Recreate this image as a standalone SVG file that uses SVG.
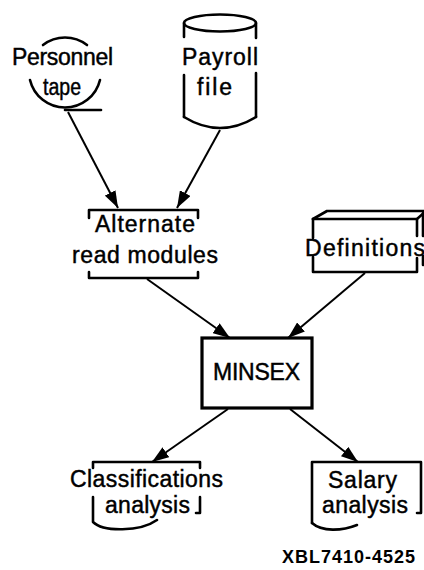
<svg xmlns="http://www.w3.org/2000/svg" width="424" height="570" viewBox="0 0 424 570">
  <style>
    .shape { fill: none; stroke: #000; stroke-width: 2.6; stroke-linecap: round; stroke-linejoin: round; }
    .box { fill: none; stroke: #000; stroke-width: 3.2; }
    .label { font-family: "Liberation Sans", Arial, sans-serif; font-size: 23px; fill: #000; stroke: #000; stroke-width: 0.45; }
    .tag { font-family: "Liberation Sans", Arial, sans-serif; font-size: 18px; font-weight: bold; fill: #000; }
    .edge { stroke: #000; stroke-width: 2; fill: none; marker-end: url(#head); }
  </style>
  <defs>
    <marker id="head" viewBox="0 0 17 12" refX="17" refY="6" markerWidth="17" markerHeight="12" markerUnits="userSpaceOnUse" orient="auto">
      <path d="M0,0 L17,6 L0,12 Z" fill="#000"/>
    </marker>
  </defs>

  <rect width="424" height="570" fill="#fff"/>

  <!-- magnetic tape reel -->
  <g id="personnel-tape">
    <path class="shape" d="M43,45 A36,36 0 0 1 87,45"/>
    <path class="shape" d="M30,80 A36,36 0 0 0 100,80"/>
    <path class="shape" d="M65,110 L101,110"/>
    <text class="label" x="12" y="65" textLength="101" lengthAdjust="spacing">Personnel</text>
    <text class="label" x="43" y="95" font-size="21" textLength="38" lengthAdjust="spacingAndGlyphs">tape</text>
  </g>

  <!-- disk file cylinder -->
  <g id="payroll-file">
    <ellipse class="shape" cx="220" cy="23" rx="36" ry="8.5"/>
    <path class="shape" d="M184,23 L184,37 M184,75 L184,117 M256,23 L256,38 M256,73 L256,117"/>
    <path class="shape" d="M184,117 Q220,139 256,117"/>
    <text class="label" x="182" y="65" textLength="76" lengthAdjust="spacing">Payroll</text>
    <text class="label" x="197" y="95" textLength="35" lengthAdjust="spacing">file</text>
  </g>

  <g id="alternate-read-modules">
    <path class="shape" d="M89,218 L89,210 L198,210 L198,218"/>
    <path class="shape" d="M89,272 L89,278 L198,278 L198,272"/>
    <text class="label" x="95" y="232" textLength="100" lengthAdjust="spacing">Alternate</text>
    <text class="label" x="72" y="263" textLength="146" lengthAdjust="spacing">read modules</text>
  </g>

  <!-- card deck block -->
  <g id="definitions">
    <path class="shape" d="M313,219 L327,211 L426,211"/>
    <path class="shape" d="M313,219 L417,219 L426,211"/>
    <path class="shape" d="M313,219 L313,238 M313,257 L313,272 L417,272 L417,258 M417,219 L417,236"/>
    <path class="shape" d="M423,213 L423,236 M423,256 L423,265"/>
    <text class="label" x="305" y="256" textLength="120" lengthAdjust="spacing">Definitions</text>
  </g>

  <g id="minsex">
    <rect class="box" x="202" y="338" width="110" height="70"/>
    <text class="label" x="213" y="380" textLength="87" lengthAdjust="spacing">MINSEX</text>
  </g>

  <g id="classifications-analysis">
    <path class="shape" d="M93,468 L93,462 L200,462 L200,468"/>
    <path class="shape" d="M93,497 L93,522 C103,532 140,532 157,520"/>
    <path class="shape" d="M200,497 L200,513 L196,513"/>
    <text class="label" x="70" y="487" textLength="153" lengthAdjust="spacing">Classifications</text>
    <text class="label" x="105" y="513" textLength="85" lengthAdjust="spacing">analysis</text>
  </g>

  <g id="salary-analysis">
    <path class="shape" d="M312,523 L312,462 L421,462 L421,513 L417,513"/>
    <path class="shape" d="M312,523 C322,532 342,531 357,525"/>
    <text class="label" x="328" y="488" textLength="69" lengthAdjust="spacing">Salary</text>
    <text class="label" x="322" y="513" textLength="86" lengthAdjust="spacing">analysis</text>
  </g>

  <g id="connectors">
    <line class="edge" x1="68" y1="112" x2="118" y2="208"/>
    <line class="edge" x1="220" y1="130" x2="177" y2="208"/>
    <line class="edge" x1="147" y1="279" x2="230" y2="338"/>
    <line class="edge" x1="365" y1="273" x2="288" y2="338"/>
    <line class="edge" x1="228" y1="409" x2="152" y2="462"/>
    <line class="edge" x1="290" y1="409" x2="358" y2="462"/>
  </g>

  <text class="tag" x="282" y="563" textLength="133" lengthAdjust="spacing">XBL7410-4525</text>
</svg>
